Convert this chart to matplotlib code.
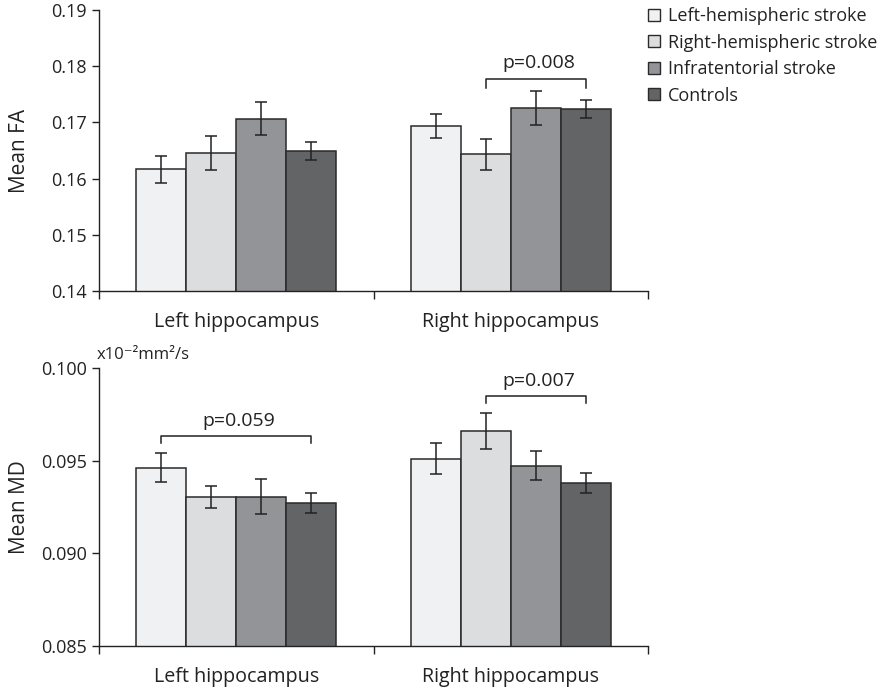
import numpy as np
import matplotlib
matplotlib.use("Agg")
import matplotlib.pyplot as plt
from matplotlib.patches import Patch

plt.rcParams['font.family'] = ['Open Sans', 'DejaVu Sans']
plt.rcParams['text.color'] = '#222222'
plt.rcParams['axes.labelcolor'] = '#222222'
plt.rcParams['xtick.color'] = '#222222'
plt.rcParams['ytick.color'] = '#222222'

regions = ["Left hippocampus", "Right hippocampus"]
groups = ["Left-hemispheric stroke", "Right-hemispheric stroke",
          "Infratentorial stroke", "Controls"]
colors = ["#f0f1f3", "#dcdddf", "#939497", "#636466"]

# mean FA per group, rows = left / right hippocampus
fa_mean = [[0.1617, 0.1646, 0.1707, 0.1649],
           [0.1694, 0.1643, 0.1726, 0.1724]]
fa_err = [[0.0024, 0.0030, 0.0030, 0.0016],
          [0.0021, 0.0027, 0.0030, 0.0016]]

# mean MD per group
md_mean = [[0.09463, 0.09306, 0.09306, 0.09271],
           [0.09512, 0.09660, 0.09474, 0.09380]]
md_err = [[0.00079, 0.00060, 0.00095, 0.00055],
          [0.00085, 0.00095, 0.00077, 0.00053]]

# significance brackets: (region, first group, last group, height, label)
fa_brackets = [(1, 1, 3, 0.1777, "p=0.008")]
md_brackets = [(0, 0, 3, 0.09633, "p=0.059"),
               (1, 1, 3, 0.0985, "p=0.007")]

fig = plt.figure(figsize=(8.8, 6.88), dpi=100)
ax_fa = fig.add_axes([0.1125, 0.577, 0.6239, 0.4084])
ax_md = fig.add_axes([0.1125, 0.061, 0.6239, 0.404])

width = 0.182
offsets = (np.arange(4) - 1.5) * width


def draw_panel(ax, means, errs, brackets, ylim, yticks, fmt, ylabel, bh):
    means = np.array(means)
    errs = np.array(errs)
    x = np.arange(len(regions))
    for i in range(4):
        ax.bar(x + offsets[i], means[:, i], width, bottom=0,
               color=colors[i], edgecolor='#2a2a2a', linewidth=1.1, zorder=2)
        ax.errorbar(x + offsets[i], means[:, i], yerr=errs[:, i], fmt='none',
                    ecolor='#222222', elinewidth=1.1, capsize=4.5,
                    capthick=1.1, zorder=3)
    for r, g0, g1, h, label in brackets:
        x0 = r + offsets[g0]
        x1 = r + offsets[g1]
        ax.plot([x0, x0, x1, x1], [h - bh, h, h, h - bh],
                color='#222222', lw=1.1, clip_on=False)
        ax.text((x0 + x1) / 2 + 0.01, h + bh * 0.8, label, ha='center',
                va='bottom', fontsize=14)
    ax.set_xlim(-0.5, 1.5)
    ax.set_ylim(*ylim)
    ax.set_yticks(yticks)
    ax.set_yticklabels([fmt.format(v) for v in yticks])
    ax.set_xticks([-0.5, 0.5, 1.5])
    ax.set_xticklabels([])
    ax.set_xticks(x, minor=True)
    ax.set_xticklabels(regions, minor=True, fontsize=14.2)
    ax.tick_params(axis='x', which='major', length=6, width=1, direction='out')
    ax.tick_params(axis='x', which='minor', length=0, pad=15)
    ax.tick_params(axis='y', length=5, width=1, labelsize=13, pad=4)
    for side in ['top', 'right']:
        ax.spines[side].set_visible(False)
    for side in ['left', 'bottom']:
        ax.spines[side].set_linewidth(1)
        ax.spines[side].set_color('#222222')
    ax.set_ylabel(ylabel, fontsize=15)
    ax.yaxis.set_label_coords(-0.125, 0.5)


draw_panel(ax_fa, fa_mean, fa_err, fa_brackets, (0.14, 0.19),
           [0.14, 0.15, 0.16, 0.17, 0.18, 0.19], "{:.2f}", "Mean FA", 0.0015)
draw_panel(ax_md, md_mean, md_err, md_brackets, (0.085, 0.100),
           [0.085, 0.090, 0.095, 0.100], "{:.3f}", "Mean MD", 0.0004)

ax_md.text(-0.005, 1.02, "x10⁻²mm²/s", transform=ax_md.transAxes,
           ha='left', va='bottom', fontsize=12)

handles = [Patch(facecolor=c, edgecolor='#2a2a2a', linewidth=1) for c in colors]
fig.legend(handles, groups, loc='upper left', bbox_to_anchor=(0.7286, 1.0),
           frameon=False, fontsize=13, handlelength=0.63, handleheight=0.63,
           handletextpad=0.47, labelspacing=0.47, borderaxespad=0)

fig.savefig("out.png", dpi=100)
